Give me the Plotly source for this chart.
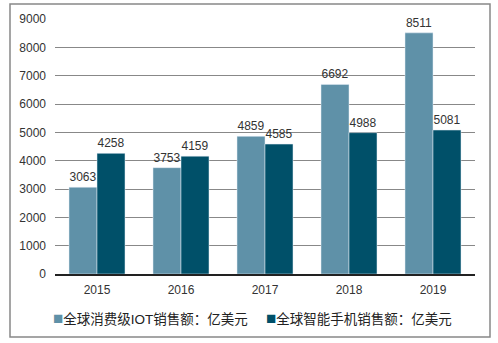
import plotly.graph_objects as go

years = ["2015", "2016", "2017", "2018", "2019"]
iot = [3063, 3753, 4859, 6692, 8511]
phone = [4258, 4159, 4585, 4988, 5081]
names = ["全球消费级IOT销售额：亿美元", "全球智能手机销售额：亿美元"]
yticks = [0, 1000, 2000, 3000, 4000, 5000, 6000, 7000, 8000, 9000]

c1 = "#5F91A8"
c2 = "#005069"
font = "Liberation Sans, Arial, Noto Sans CJK SC, sans-serif"
cjk = "Liberation Sans, Noto Sans CJK SC, sans-serif"

fig = go.Figure()
fig.add_trace(go.Bar(x=years, y=iot, name=names[0], marker_color=c1,
                     text=iot, textposition="outside", cliponaxis=False,
                     textfont=dict(size=12, color="#333333")))
fig.add_trace(go.Bar(x=years, y=phone, name=names[1], marker_color=c2,
                     text=phone, textposition="outside", cliponaxis=False,
                     textfont=dict(size=12, color="#333333")))

W, H = 498, 343
L, R, T, B = 55, 23, 19, 69
pw, ph = W - L - R, H - T - B

def px_x(x):
    return (x - L) / pw

def px_y(y):
    return (H - B - y) / ph

legend_ann = []
for name, col, xpos in [(names[0], c1, 51), (names[1], c2, 264)]:
    legend_ann.append(dict(
        xref="paper", yref="paper", x=px_x(xpos), y=px_y(318),
        xanchor="left", yanchor="middle", showarrow=False,
        text=f"<span style='color:{col};font-size:17px'>■</span>{name}",
        font=dict(size=13.5, color="#222222", family=cjk)))

fig.update_layout(
    width=W, height=H,
    margin=dict(l=L, r=R, t=T, b=B),
    paper_bgcolor="white", plot_bgcolor="white",
    barmode="group", bargap=1/3, bargroupgap=0,
    font=dict(family=font, size=12, color="#333333"),
    showlegend=False,
    annotations=legend_ann,
    xaxis=dict(showgrid=False, showline=True, linecolor="#222222", linewidth=1.5,
               ticks="", ticklabelstandoff=4, tickfont=dict(size=12, color="#333333")),
    yaxis=dict(range=[0, 9000], tickvals=yticks, showgrid=True, gridcolor="#888888",
               gridwidth=1, zeroline=False, showline=False, ticks="", ticklabelstandoff=8,
               tickfont=dict(size=12, color="#333333")),
    shapes=[dict(type="rect", xref="paper", yref="paper",
                 x0=px_x(10), x1=px_x(490), y0=px_y(337), y1=px_y(4),
                 line=dict(color="#888888", width=1.5), fillcolor="rgba(0,0,0,0)", layer="below")],
)

fig.write_html("out.html")
